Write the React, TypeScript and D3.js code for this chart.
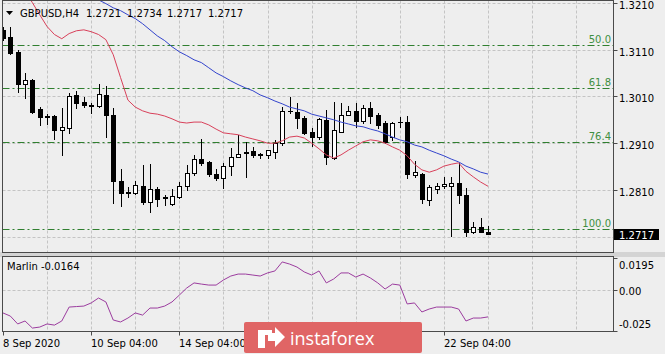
import React, { useEffect, useRef } from 'react';
import * as d3 from 'd3';

// GBPUSD H4, 8 Sep 04:00 .. 23 Sep 04:00 (one value per bar)
const symbol = 'GBPUSD,H4';
const headerValues = ['1.2721', '1.2734', '1.2717', '1.2717'];

const opens = [1.3152, 1.3137, 1.3105, 1.3037, 1.3045, 1.2983, 1.2968, 1.2968, 1.2938, 1.2942,
  1.3013, 1.2998, 1.2992, 1.2990, 1.3013, 1.2970, 1.2829, 1.2806, 1.2803, 1.2818,
  1.2784, 1.2812, 1.2795, 1.2780, 1.2795, 1.2818, 1.2846, 1.2876, 1.2870, 1.2844,
  1.2835, 1.2861, 1.2880, 1.2889, 1.2893, 1.2886, 1.2885, 1.2891, 1.2910, 1.2979,
  1.2977, 1.2964, 1.2934, 1.2923, 1.2960, 1.2878, 1.2934, 1.2970, 1.2979, 1.2957,
  1.2985, 1.2970, 1.2953, 1.2923, 1.2955, 1.2955, 1.2842, 1.2844, 1.2788, 1.2812,
  1.2818, 1.2818, 1.2825, 1.2799, 1.2721, 1.2730, 1.2721];
const highs = [1.3157, 1.3159, 1.3109, 1.3060, 1.3047, 1.2987, 1.2972, 1.2970, 1.2985, 1.3017,
  1.3022, 1.3009, 1.2996, 1.3037, 1.3032, 1.2985, 1.2855, 1.2816, 1.2829, 1.2863,
  1.2865, 1.2816, 1.2799, 1.2812, 1.2827, 1.2863, 1.2885, 1.2919, 1.2872, 1.2855,
  1.2868, 1.2900, 1.2928, 1.2913, 1.2902, 1.2889, 1.2895, 1.2917, 1.2987, 1.3009,
  1.2996, 1.2968, 1.2942, 1.2964, 1.2981, 1.2998, 1.2996, 1.2990, 1.2996, 1.2992,
  1.2998, 1.2974, 1.2957, 1.2955, 1.2966, 1.2968, 1.2872, 1.2846, 1.2821, 1.2825,
  1.2838, 1.2838, 1.2868, 1.2814, 1.2741, 1.2750, 1.2734];
const lows = [1.3131, 1.3101, 1.3019, 1.3007, 1.2974, 1.2949, 1.2951, 1.2919, 1.2885, 1.2932,
  1.2985, 1.2987, 1.2974, 1.2987, 1.2923, 1.2782, 1.2776, 1.2795, 1.2801, 1.2780,
  1.2763, 1.2776, 1.2778, 1.2778, 1.2793, 1.2810, 1.2842, 1.2863, 1.2840, 1.2831,
  1.2814, 1.2842, 1.2880, 1.2838, 1.2880, 1.2878, 1.2878, 1.2878, 1.2906, 1.2974,
  1.2942, 1.2930, 1.2904, 1.2919, 1.2865, 1.2876, 1.2934, 1.2970, 1.2945, 1.2953,
  1.2953, 1.2942, 1.2910, 1.2917, 1.2945, 1.2835, 1.2838, 1.2782, 1.2778, 1.2803,
  1.2814, 1.2711, 1.2782, 1.2711, 1.2718, 1.2720, 1.2717];
const closes = [1.3135, 1.3103, 1.3037, 1.3045, 1.2977, 1.2966, 1.2966, 1.2938, 1.2945, 1.3011,
  1.2996, 1.2992, 1.2990, 1.3015, 1.2970, 1.2829, 1.2803, 1.2803, 1.2821, 1.2784,
  1.2812, 1.2791, 1.2793, 1.2797, 1.2818, 1.2846, 1.2876, 1.2868, 1.2844, 1.2835,
  1.2861, 1.2880, 1.2887, 1.2891, 1.2885, 1.2885, 1.2895, 1.2910, 1.2979, 1.2978,
  1.2964, 1.2932, 1.2923, 1.2962, 1.2880, 1.2938, 1.2970, 1.2979, 1.2957, 1.2985,
  1.2968, 1.2949, 1.2913, 1.2953, 1.2956, 1.2844, 1.2849, 1.2791, 1.2816, 1.2818,
  1.2823, 1.2825, 1.2799, 1.2721, 1.2730, 1.2721, 1.2717];

// moving averages (red = fast, blue = slow)
const maFast = [1.3313, 1.3287, 1.3259, 1.3234, 1.3210, 1.3184, 1.3159, 1.3142, 1.3133, 1.3144,
  1.3150, 1.3152, 1.3148, 1.3142, 1.3131, 1.3099, 1.3050, 1.3002, 1.2987, 1.2979,
  1.2974, 1.2972, 1.2968, 1.2962, 1.2955, 1.2953, 1.2955, 1.2955, 1.2949, 1.2940,
  1.2932, 1.2930, 1.2928, 1.2923, 1.2919, 1.2915, 1.2910, 1.2910, 1.2915, 1.2923,
  1.2925, 1.2921, 1.2910, 1.2898, 1.2885, 1.2878, 1.2885, 1.2895, 1.2904, 1.2913,
  1.2917, 1.2915, 1.2910, 1.2902, 1.2895, 1.2883, 1.2865, 1.2853, 1.2848, 1.2853,
  1.2861, 1.2865, 1.2868, 1.2850, 1.2838, 1.2827, 1.2818];
const maSlow = [1.3328, 1.3319, 1.3311, 1.3302, 1.3293, 1.3285, 1.3276, 1.3268, 1.3259, 1.3251,
  1.3242, 1.3234, 1.3225, 1.3216, 1.3208, 1.3199, 1.3193, 1.3184, 1.3176, 1.3165,
  1.3152, 1.3139, 1.3129, 1.3116, 1.3105, 1.3097, 1.3088, 1.3082, 1.3071, 1.3060,
  1.3052, 1.3043, 1.3035, 1.3028, 1.3022, 1.3013, 1.3007, 1.3000, 1.2994, 1.2987,
  1.2983, 1.2979, 1.2972, 1.2968, 1.2964, 1.2960, 1.2955, 1.2951, 1.2947, 1.2945,
  1.2940, 1.2936, 1.2930, 1.2923, 1.2917, 1.2913, 1.2906, 1.2902, 1.2895, 1.2889,
  1.2883, 1.2876, 1.2870, 1.2861, 1.2855, 1.2848, 1.2844];

const marlin = [-0.0140, -0.0159, -0.0207, -0.0189, -0.0232, -0.0226, -0.0207, -0.0214, -0.0189, -0.0104,
  -0.0101, -0.0098, -0.0079, -0.0049, -0.0073, -0.0183, -0.0195, -0.0171, -0.0140, -0.0153,
  -0.0110, -0.0110, -0.0098, -0.0073, -0.0031, 0.0012, 0.0043, 0.0036, 0.0030, 0.0030,
  0.0061, 0.0085, 0.0097, 0.0097, 0.0091, 0.0085, 0.0104, 0.0116, 0.0171, 0.0158,
  0.0140, 0.0110, 0.0091, 0.0116, 0.0043, 0.0067, 0.0104, 0.0104, 0.0079, 0.0097,
  0.0073, 0.0043, 0.0006, 0.0036, 0.0030, -0.0085, -0.0079, -0.0134, -0.0116, -0.0104,
  -0.0104, -0.0104, -0.0116, -0.0189, -0.0171, -0.0171, -0.0164];

const priceTicks = [1.3210, 1.3110, 1.3010, 1.2910, 1.2810, 1.2710];
const priceLabels = ['1.3210', '1.3110', '1.3010', '1.2910', '1.2810'];
const lastPrice = 1.2717;

const fibLevels = [50.0, 61.8, 76.4, 100.0];
const fibHigh = 1.3513;
const fibLow = 1.2727;

const marlinTicks = [0.0195, 0.0, -0.025];
const marlinLabels = ['0.0195', '0.00', '-0.025'];

const tickBars = [0, 12, 24, 60];
const tickTexts = ['8 Sep 2020', '10 Sep 04:00', '14 Sep 04:00', '22 Sep 04:00'];
const gridBars = [6, 12, 18, 24, 30, 36, 42, 48, 54, 60, 66, 72, 78];

const FONT = '"DejaVu Sans", Tahoma, sans-serif';

export default function App() {
  const ref = useRef<SVGSVGElement>(null);

  useEffect(() => {
    const svg = d3.select(ref.current);
    svg.selectAll('*').remove();

    const left = 2.5, right = 613.5;
    const mainTop = 0.5, mainBottom = 254.5;
    const indTop = 256.5, indBottom = 331.5;

    const x = d3.scaleLinear().domain([0, 66]).range([3, 488]);
    const y = d3.scaleLinear().domain([1.2810, 1.3110]).range([190, 49.5]);
    const yi = d3.scaleLinear().domain([-0.025, 0.0195]).range([331, 258]);
    const px = (v: number) => Math.round(v) + 0.5;

    const defs = svg.append('defs');
    defs.append('clipPath').attr('id', 'clipMain').append('rect')
      .attr('x', left).attr('y', mainTop).attr('width', right - left).attr('height', mainBottom - mainTop);
    defs.append('clipPath').attr('id', 'clipInd').append('rect')
      .attr('x', left).attr('y', indTop).attr('width', right - left).attr('height', indBottom - indTop);

    svg.append('rect').attr('width', 665).attr('height', 354).attr('fill', '#eeeeee');

    const main = svg.append('g').attr('clip-path', 'url(#clipMain)');
    const ind = svg.append('g').attr('clip-path', 'url(#clipInd)');

    // grid
    main.selectAll('line.hg').data(priceTicks).enter().append('line')
      .attr('x1', left).attr('x2', right)
      .attr('y1', d => px(y(d))).attr('y2', d => px(y(d)))
      .attr('stroke', '#c4c4c4').attr('stroke-dasharray', '3,2');
    [main, ind].forEach((g, k) => {
      g.selectAll('line.vg').data(gridBars).enter().append('line')
        .attr('x1', d => px(x(d))).attr('x2', d => px(x(d)))
        .attr('y1', k === 0 ? mainTop : indTop).attr('y2', k === 0 ? mainBottom : indBottom)
        .attr('stroke', '#c4c4c4').attr('stroke-dasharray', '3,2');
    });
    ind.append('line').attr('x1', left).attr('x2', right)
      .attr('y1', px(yi(0))).attr('y2', px(yi(0)))
      .attr('stroke', '#c4c4c4').attr('stroke-dasharray', '3,2');

    // fibonacci levels
    const fibPrice = (l: number) => fibHigh - (l / 100) * (fibHigh - fibLow);
    main.selectAll('line.fib').data(fibLevels).enter().append('line')
      .attr('x1', left).attr('x2', right)
      .attr('y1', d => px(y(fibPrice(d)))).attr('y2', d => px(y(fibPrice(d))))
      .attr('stroke', '#2f7f2f').attr('stroke-dasharray', '7,3,2,3');
    main.selectAll('text.fib').data(fibLevels).enter().append('text')
      .attr('x', 611).attr('y', d => px(y(fibPrice(d))) - 2.5)
      .attr('text-anchor', 'end').attr('font-family', FONT).attr('font-size', 10)
      .attr('fill', '#3f8f3f').text(d => d.toFixed(1));

    // candles
    const idx = d3.range(opens.length);
    const cg = main.append('g');
    idx.forEach(i => {
      const cx = Math.round(x(i));
      const yo = y(opens[i]), yc = y(closes[i]);
      cg.append('line').attr('x1', cx + 0.5).attr('x2', cx + 0.5)
        .attr('y1', Math.round(y(highs[i]))).attr('y2', Math.round(y(lows[i])) + 1)
        .attr('stroke', '#000');
      const top = Math.round(Math.min(yo, yc));
      const bot = Math.round(Math.max(yo, yc));
      if (bot - top < 1) {
        cg.append('line').attr('x1', cx - 2).attr('x2', cx + 3)
          .attr('y1', top + 0.5).attr('y2', top + 0.5).attr('stroke', '#000');
      } else if (closes[i] >= opens[i]) {
        cg.append('rect').attr('x', cx - 1.5).attr('y', top + 0.5)
          .attr('width', 4).attr('height', bot - top)
          .attr('fill', '#fff').attr('stroke', '#000');
      } else {
        cg.append('rect').attr('x', cx - 2).attr('y', top)
          .attr('width', 5).attr('height', bot - top + 1).attr('fill', '#000');
      }
    });

    // moving averages
    const line = d3.line<number>().x((_, i) => x(i)).y(d => y(d));
    main.append('path').datum(maSlow).attr('d', line).attr('fill', 'none')
      .attr('stroke', '#3344cc').attr('stroke-width', 1);
    main.append('path').datum(maFast).attr('d', line).attr('fill', 'none')
      .attr('stroke', '#d8405a').attr('stroke-width', 1);

    // marlin
    const mline = d3.line<number>().x((_, i) => x(i)).y(d => yi(d));
    ind.append('path').datum(marlin).attr('d', mline).attr('fill', 'none')
      .attr('stroke', '#9b3c9e').attr('stroke-width', 1);

    // frames
    svg.append('rect').attr('x', 0).attr('y', 252).attr('width', 665).attr('height', 5).attr('fill', '#d4d4d4');
    svg.append('rect').attr('x', left).attr('y', mainTop).attr('width', right - left).attr('height', mainBottom - mainTop - 2)
      .attr('fill', 'none').attr('stroke', '#4a4a4a');
    svg.append('rect').attr('x', left).attr('y', indTop).attr('width', right - left).attr('height', indBottom - indTop)
      .attr('fill', 'none').attr('stroke', '#4a4a4a');

    // header
    svg.append('path').attr('d', 'M6,11 L13,11 L9.5,15 Z').attr('fill', '#000');
    const hx = [20, 86, 127, 167, 208];
    [symbol, ...headerValues].forEach((t, k) => {
      svg.append('text').attr('x', hx[k]).attr('y', 17).attr('font-family', FONT)
        .attr('font-size', 10).attr('fill', '#000').text(t);
    });

    // price axis
    priceLabels.forEach((t, k) => {
      const yy = px(y(priceTicks[k]));
      svg.append('line').attr('x1', right).attr('x2', right + 4).attr('y1', yy).attr('y2', yy).attr('stroke', '#4a4a4a');
      svg.append('text').attr('x', 619).attr('y', Math.max(9, yy + 5)).attr('font-family', FONT)
        .attr('font-size', 10).attr('fill', '#000').text(t);
    });
    const ly = y(lastPrice);
    svg.append('rect').attr('x', 614).attr('y', Math.round(ly) - 5).attr('width', 45).attr('height', 11).attr('fill', '#000');
    svg.append('text').attr('x', 619).attr('y', Math.round(ly) + 4.5).attr('font-family', FONT)
      .attr('font-size', 10).attr('fill', '#fff').text(lastPrice.toFixed(4));

    // indicator axis
    const mly = [269, 295, 328];
    marlinLabels.forEach((t, k) => {
      const yy = px(yi(marlinTicks[k]));
      svg.append('line').attr('x1', right).attr('x2', right + 4).attr('y1', yy).attr('y2', yy).attr('stroke', '#4a4a4a');
      svg.append('text').attr('x', 619).attr('y', mly[k]).attr('font-family', FONT)
        .attr('font-size', 10).attr('fill', '#000').text(t);
    });
    svg.append('text').attr('x', 7).attr('y', 270).attr('font-family', FONT).attr('font-size', 10)
      .attr('fill', '#000').text('Marlin ' + marlin[marlin.length - 1].toFixed(4));

    // time axis
    tickBars.forEach((b, k) => {
      const xx = px(x(b));
      svg.append('line').attr('x1', xx).attr('x2', xx).attr('y1', indBottom).attr('y2', indBottom + 4).attr('stroke', '#4a4a4a');
      svg.append('text').attr('x', b === 0 ? 3 : xx - 0.5).attr('y', 347).attr('font-family', FONT)
        .attr('font-size', 10).attr('fill', '#000').text(tickTexts[k]);
    });

    // watermark logo
    const logo = svg.append('g');
    logo.append('rect').attr('x', 244).attr('y', 322).attr('width', 178).attr('height', 31)
      .attr('rx', 2).attr('fill', '#e06565');
    logo.append('path').attr('d', 'M258,330 L272,330 L272,335 L265,335 L265,348 L258,348 Z M275,327 L285,337 L275,347 L275,341 L268,341 L268,333 L275,333 Z')
      .attr('fill', '#fff');
    logo.append('text').attr('x', 290).attr('y', 345).attr('font-family', '"Open Sans", sans-serif')
      .attr('font-size', 18).attr('fill', '#fff').text('instaforex');
  }, []);

  return (
    <svg ref={ref} width={665} height={354}
      style={{ position: 'absolute', left: 0, top: 0, display: 'block' }} />
  );
}
